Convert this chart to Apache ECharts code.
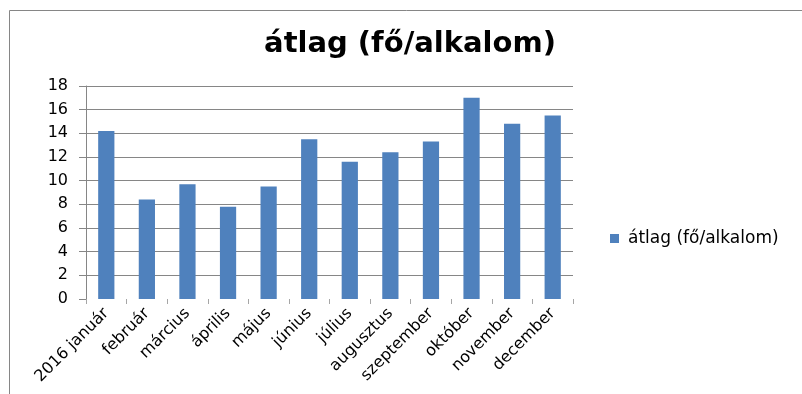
<!DOCTYPE html>
<html>
<head>
<meta charset="utf-8">
<script src="https://cdn.jsdelivr.net/npm/echarts@6/dist/echarts.min.js"></script>
<style>
  html, body { margin: 0; padding: 0; background: #fff; }
  #chart { width: 802px; height: 394px; }
</style>
</head>
<body>
<div id="chart"></div>
<script>
// Havi átlagos létszám (fő/alkalom), 2016
const categories = ['2016 január', 'február', 'március', 'április', 'május', 'június',
  'július', 'augusztus', 'szeptember', 'október', 'november', 'december'];
const seriesName = 'átlag (fő/alkalom)';
const averages = [14.2, 8.4, 9.7, 7.8, 9.5, 13.5, 11.6, 12.4, 13.3, 17.0, 14.8, 15.5];
const yTicks = { min: 0, max: 18, interval: 2 };

const chart = echarts.init(document.getElementById('chart'), null, { renderer: 'canvas' });
const gray = '#868686';
const font = 'DejaVu Sans';

chart.setOption({
  animation: false,
  backgroundColor: '#fff',
  graphic: [{
    type: 'rect',
    shape: { x: 9.5, y: 10.5, width: 900, height: 500 },
    style: { fill: 'none', stroke: gray, lineWidth: 1 },
    silent: true
  }],
  title: {
    text: seriesName,
    left: 405,
    top: 25,
    textAlign: 'center',
    textStyle: { fontFamily: font, fontWeight: 'bold', fontSize: 29, color: '#000' }
  },
  legend: {
    data: [seriesName],
    left: 605,
    top: 225,
    icon: 'rect',
    itemWidth: 9,
    itemHeight: 9,
    textStyle: { fontFamily: font, fontSize: 17, color: '#000', padding: [0, 0, 0, 4] }
  },
  grid: { left: 86, right: 229, top: 86, bottom: 95, containLabel: false },
  xAxis: {
    type: 'category',
    data: categories,
    axisLine: { show: false },
    axisTick: { show: true, length: 5, lineStyle: { color: '#a6a6a6' } },
    axisLabel: { rotate: 45, margin: 12, fontFamily: font, fontSize: 16, color: '#000' }
  },
  yAxis: {
    type: 'value',
    min: yTicks.min,
    max: yTicks.max,
    interval: yTicks.interval,
    axisLine: { show: true, lineStyle: { color: gray } },
    axisTick: { show: true, length: 7, lineStyle: { color: gray } },
    axisLabel: { margin: 18, fontFamily: font, fontSize: 16, color: '#000' },
    splitLine: { show: true, showMinLine: false, lineStyle: { color: gray, width: 1 } }
  },
  series: [{
    name: seriesName,
    type: 'bar',
    data: averages,
    barWidth: '40%',
    itemStyle: { color: '#4F81BD' }
  }]
});
</script>
</body>
</html>
